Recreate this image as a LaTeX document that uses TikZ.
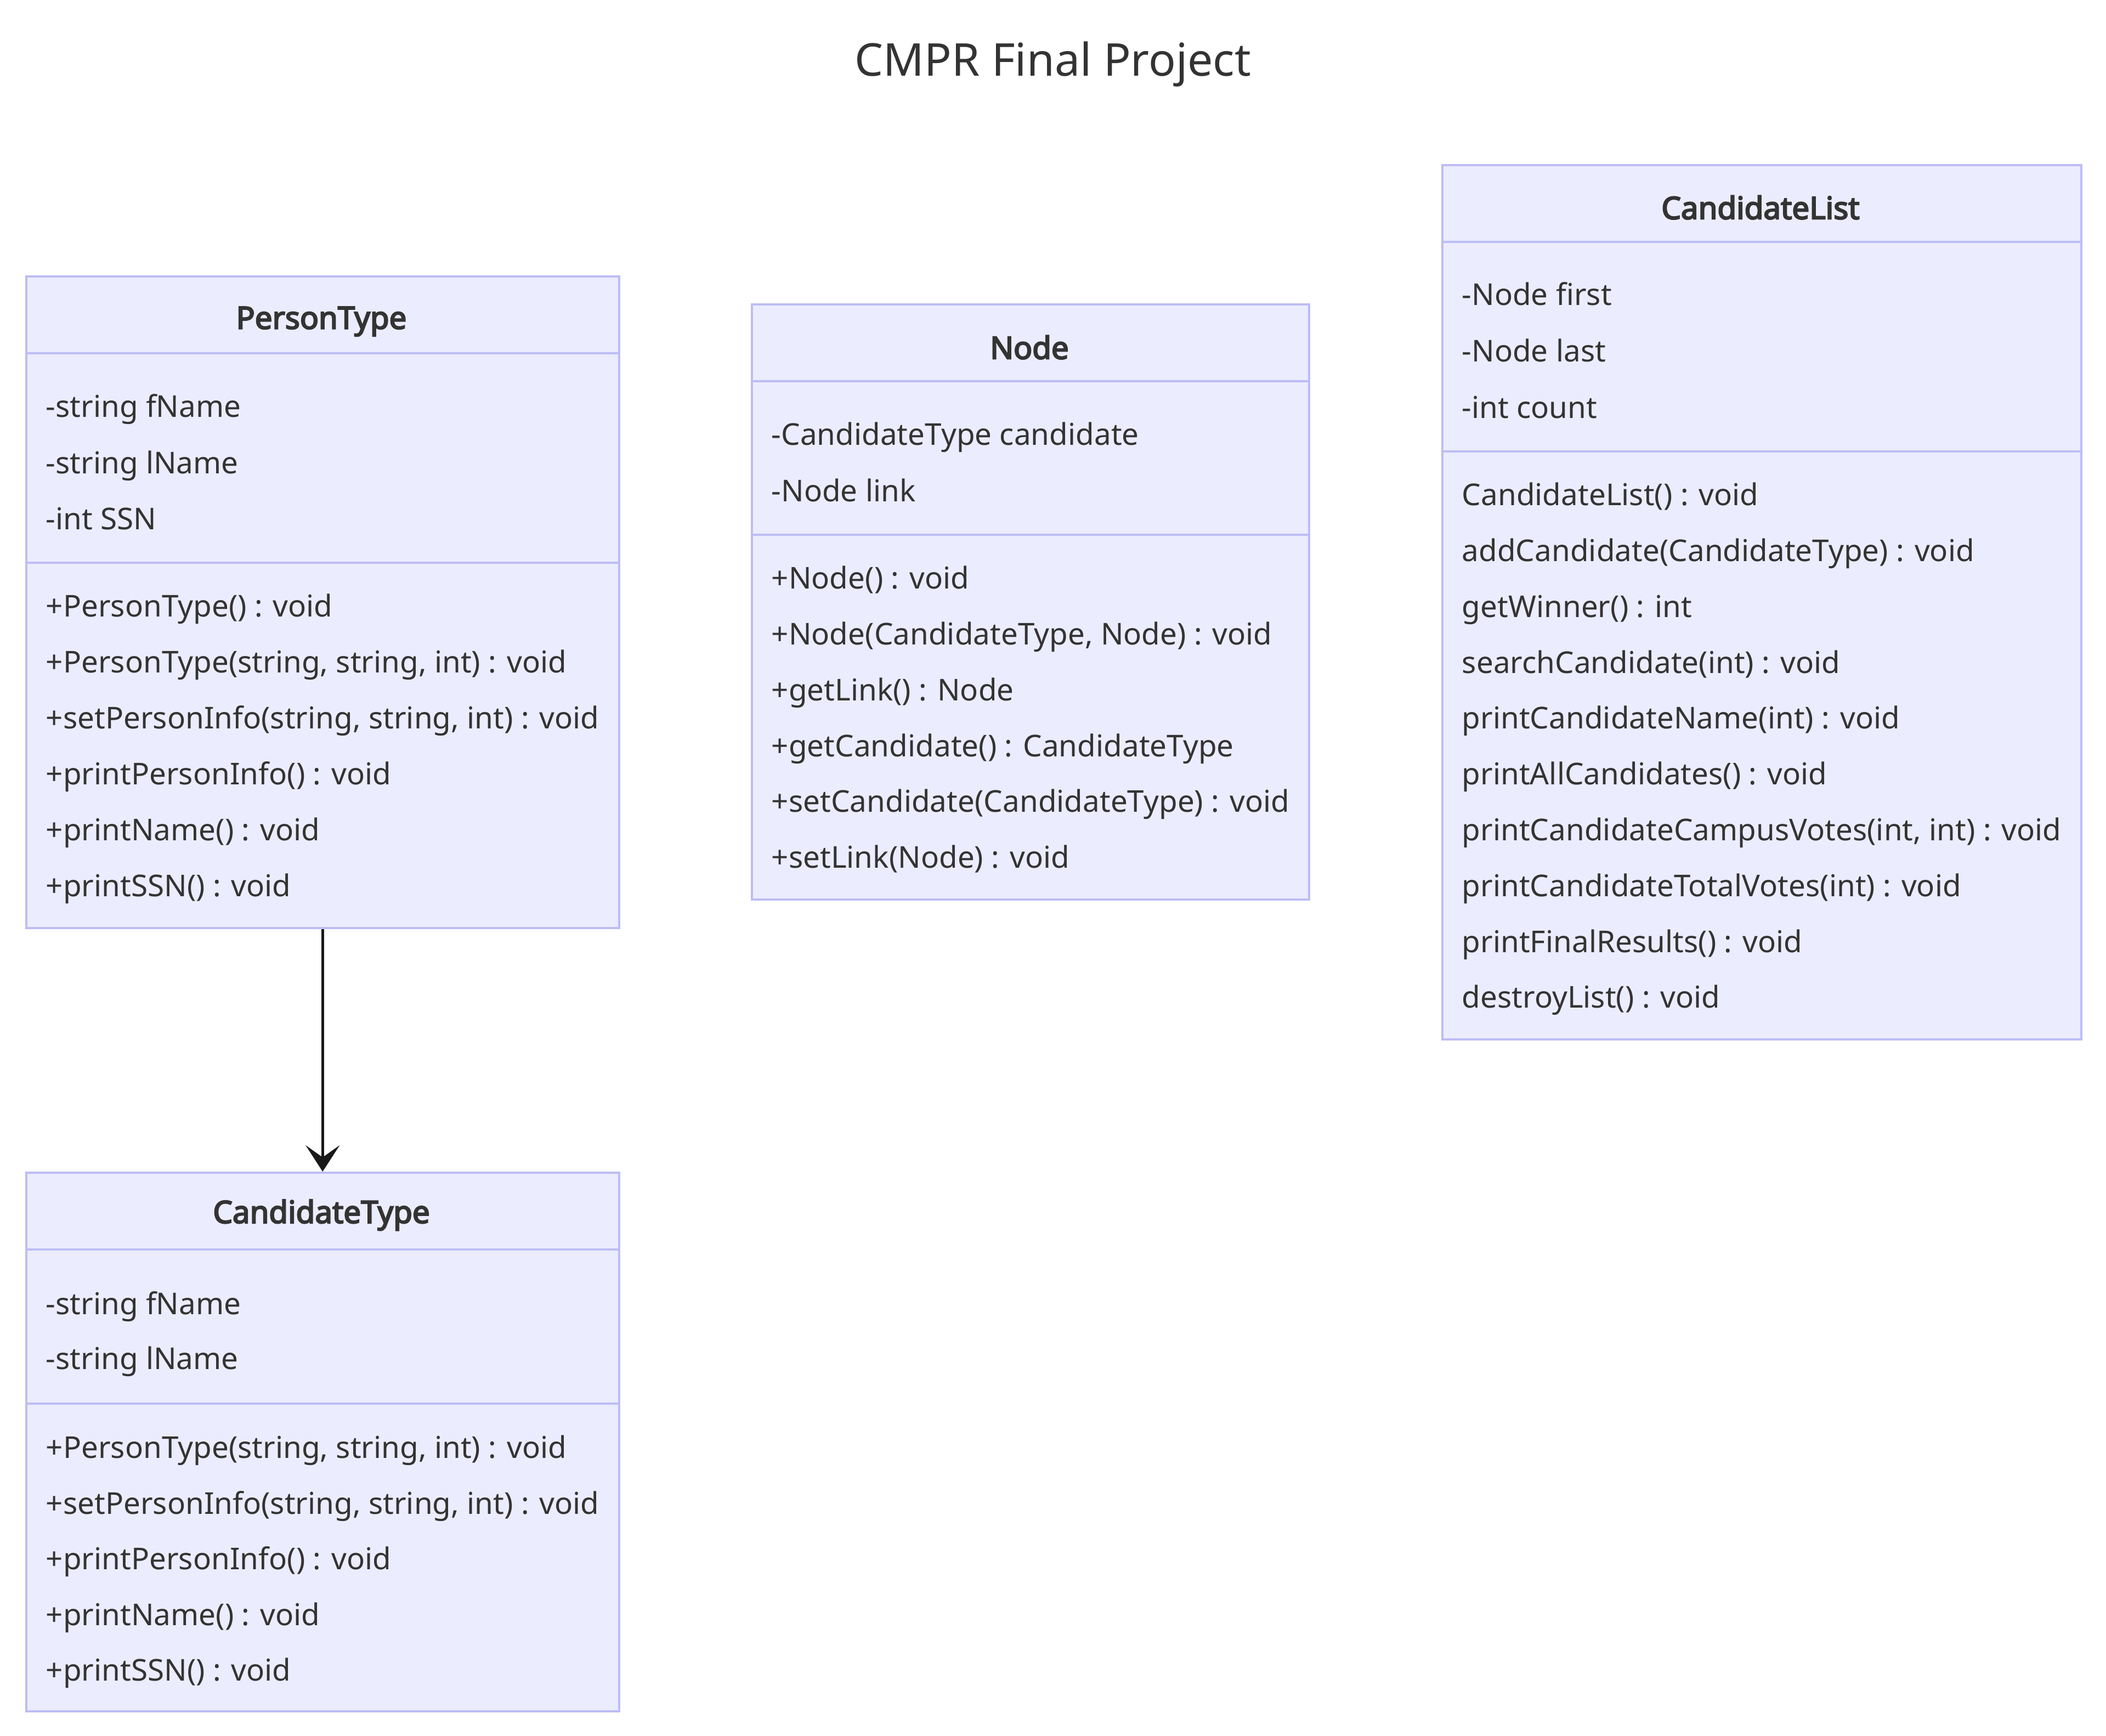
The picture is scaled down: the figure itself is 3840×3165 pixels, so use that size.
\documentclass[tikz,border=0pt]{standalone}
\usepackage{fontspec}
\setmainfont{Noto Sans}[BoldFont={Noto Sans}, BoldFeatures={FakeBold=4}]
\usetikzlibrary{arrows.meta}
\definecolor{classfill}{HTML}{ECECFF}
\definecolor{classline}{HTML}{BDBDF5}
\definecolor{classtext}{HTML}{333333}

\begin{document}
\begin{tikzpicture}[x=0.25pt,y=-0.25pt,
    box/.style={draw=classline, fill=classfill, line width=0.9pt, anchor=north west, inner sep=0pt},
    sep/.style={draw=classline, line width=0.9pt},
    cname/.style={font=\fontsize{14.1}{17}\selectfont\bfseries, text=classtext, yshift=-0.8pt},
    member/.style={font=\fontsize{13.7}{17}\selectfont, text=classtext, anchor=mid west, inner sep=0pt, yshift=-2.5pt},
    inherit/.style={-{Stealth[length=12pt,width=15.5pt,inset=5.5pt]}, line width=1.2pt, draw=black!90}]
    \useasboundingbox (0,0) rectangle (3840,3165);

    \node[font=\fontsize{20.6}{24}\selectfont, text=classtext] (title) at (1920,117) {CMPR Final Project};

    % PersonType
    \node[box, minimum width=270.25pt, minimum height=297pt] (person) at (46,502) {};
    \node[cname] (person-name) at (586,583) {PersonType};
    \draw[sep] ([yshift=-35.5pt]person.north west) -- ([yshift=-35.5pt]person.north east);
    \draw[sep] ([yshift=-131pt]person.north west) -- ([yshift=-131pt]person.north east);
    \foreach \txt [count=\i from 0] in {-string fName, -string lName, -int SSN}
        \node[member] (person-a\i) at (83,{740+102.3*\i}) {\txt};
    \foreach \txt [count=\i from 0] in {+PersonType() : void, {+PersonType(string, string, int) : void},
        {+setPersonInfo(string, string, int) : void}, +printPersonInfo() : void, +printName() : void, +printSSN() : void}
        \node[member] (person-m\i) at (83,{1104+102*\i}) {\txt};

    % Node
    \node[box, minimum width=254pt, minimum height=271.25pt] (listnode) at (1369,553) {};
    \node[cname] (listnode-name) at (1877,630) {Node};
    \draw[sep] ([yshift=-35.5pt]listnode.north west) -- ([yshift=-35.5pt]listnode.north east);
    \draw[sep] ([yshift=-105.5pt]listnode.north west) -- ([yshift=-105.5pt]listnode.north east);
    \foreach \txt [count=\i from 0] in {-CandidateType candidate, -Node link}
        \node[member] (listnode-a\i) at (1406,{791+102.5*\i}) {\txt};
    \foreach \txt [count=\i from 0] in {+Node() : void, {+Node(CandidateType, Node) : void}, +getLink() : Node,
        +getCandidate() : CandidateType, +setCandidate(CandidateType) : void, +setLink(Node) : void}
        \node[member] (listnode-m\i) at (1406,{1053+101.8*\i}) {\txt};

    % CandidateList
    \node[box, minimum width=291.25pt, minimum height=398.5pt] (clist) at (2628,299) {};
    \node[cname] (clist-name) at (3210,375) {CandidateList};
    \draw[sep] ([yshift=-35.5pt]clist.north west) -- ([yshift=-35.5pt]clist.north east);
    \draw[sep] ([yshift=-131pt]clist.north west) -- ([yshift=-131pt]clist.north east);
    \foreach \txt [count=\i from 0] in {-Node first, -Node last, -int count}
        \node[member] (clist-a\i) at (2665,{536+103*\i}) {\txt};
    \foreach \txt [count=\i from 0] in {CandidateList() : void, addCandidate(CandidateType) : void, getWinner() : int,
        searchCandidate(int) : void, printCandidateName(int) : void, printAllCandidates() : void,
        {printCandidateCampusVotes(int, int) : void}, printCandidateTotalVotes(int) : void,
        printFinalResults() : void, destroyList() : void}
        \node[member] (clist-m\i) at (2665,{901+101.8*\i}) {\txt};

    % CandidateType
    \node[box, minimum width=270.25pt, minimum height=245.5pt] (cand) at (46,2136) {};
    \node[cname] (cand-name) at (586,2212) {CandidateType};
    \draw[sep] ([yshift=-35.5pt]cand.north west) -- ([yshift=-35.5pt]cand.north east);
    \draw[sep] ([yshift=-105.75pt]cand.north west) -- ([yshift=-105.75pt]cand.north east);
    \foreach \txt [count=\i from 0] in {-string fName, -string lName}
        \node[member] (cand-a\i) at (83,{2376+100*\i}) {\txt};
    \foreach \txt [count=\i from 0] in {{+PersonType(string, string, int) : void},
        {+setPersonInfo(string, string, int) : void}, +printPersonInfo() : void, +printName() : void, +printSSN() : void}
        \node[member] (cand-m\i) at (83,{2638+101.5*\i}) {\txt};

    \draw[inherit] (person.south) -- (cand.north);
\end{tikzpicture}
\end{document}
